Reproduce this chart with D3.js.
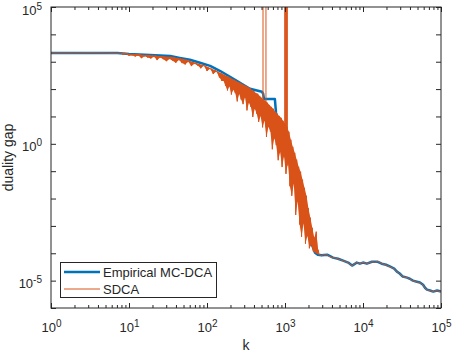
<!DOCTYPE html>
<html><head><meta charset="utf-8">
<script src="https://cdn.jsdelivr.net/npm/d3@7"></script>
<style>
body{margin:0;background:#fff}
svg{display:block}
text{font-family:"Liberation Sans",Arial,Helvetica,sans-serif;fill:#262626}
</style>
</head><body>
<svg id="c" width="452" height="354"></svg>
<script>
// ---------------- data (all pairs are [log10(k), log10(duality gap)]) ----------------
const xTickExponents = [0, 1, 2, 3, 4, 5];
const yTickExponents = [-6, -5, -4, -3, -2, -1, 0, 1, 2, 3, 4, 5];
const yLabelExponents = [-5, 0, 5];
const seriesNames = ["Empirical MC-DCA", "SDCA"];
const xLabel = "k";
const yLabel = "duality gap";

const mcdca = [
  [0,3.32],[0.85,3.32],[1.0,3.28],[1.27,3.25],[1.53,3.21],[1.65,3.14],[1.78,3.07],
  [1.91,2.96],[2.04,2.85],[2.17,2.66],[2.36,2.34],[2.55,2.01],[2.705,1.90],[2.72,1.83],
  [2.73,1.64],[2.87,1.64],[2.885,1.13],[2.91,0.80],[2.935,0.26],[2.99,-0.04],[3.03,-0.22],
  [3.08,-0.77],[3.13,-1.31],[3.18,-1.93],[3.23,-2.59],[3.28,-3.14],[3.32,-3.50],[3.385,-3.98],
  [3.42,-4.05],[3.47,-4.07],[3.54,-4.05],[3.615,-4.16],[3.68,-4.20],[3.745,-4.27],[3.81,-4.34],
  [3.86,-4.45],[3.90,-4.38],[3.92,-4.34],[3.96,-4.38],[4.0,-4.34],[4.05,-4.38],[4.115,-4.31],
  [4.19,-4.31],[4.24,-4.38],[4.295,-4.42],[4.35,-4.49],[4.40,-4.56],[4.435,-4.67],[4.47,-4.74],
  [4.51,-4.85],[4.565,-4.89],[4.60,-4.93],[4.64,-5.00],[4.69,-5.04],[4.73,-5.07],[4.77,-5.15],
  [4.795,-5.26],[4.82,-5.33],[4.86,-5.36],[4.90,-5.40],[4.95,-5.36],[5.0,-5.40]
];

const sdcaFlat = [[0,3.32],[0.3,3.32],[0.5,3.325],[0.7,3.32],[0.85,3.31]];

// noisy part: alternating [k, upper value], [k', lower value]
const sdcaMild = [
  [0.90,3.32],[0.92,3.25],[0.94,3.32],[0.96,3.28],[0.98,3.30],[1.00,3.22],
  [1.02,3.28],[1.04,3.24],[1.06,3.28],[1.08,3.19],[1.10,3.28],[1.12,3.23],
  [1.14,3.27],[1.16,3.13],[1.18,3.25],[1.20,3.20],[1.22,3.25],[1.24,3.15],
  [1.26,3.25],[1.28,3.12],[1.30,3.23],[1.32,3.18],[1.34,3.23],[1.36,3.06],
  [1.38,3.21],[1.40,3.15],[1.42,3.21],[1.44,3.09],[1.46,3.19],[1.48,3.02],
  [1.50,3.18],[1.52,3.10],[1.54,3.18],[1.56,3.04],[1.58,3.16],[1.60,2.96],
  [1.62,3.14],[1.64,3.06],[1.66,3.12],[1.68,2.95],[1.70,3.10],[1.72,2.90],
  [1.74,3.07],[1.76,3.00],[1.78,3.03],[1.80,2.84],[1.82,2.99],[1.84,2.93],
  [1.86,2.96],[1.88,2.86],[1.90,2.92],[1.92,2.76],[1.94,2.88],[1.96,2.85],
  [1.98,2.85],[2.00,2.66],[2.02,2.79],[2.04,2.74],[2.06,2.74],[2.08,2.55],
  [2.10,2.70],[2.12,2.64],[2.14,2.63],[2.16,2.42],[2.18,2.59],[2.19,2.30]
];

const sdcaSteep = [
  [2.200,2.55],[2.2125,2.30],[2.225,2.52],[2.2375,2.12],[2.250,2.48],[2.2625,1.95],
  [2.275,2.45],[2.2875,2.10],[2.300,2.41],[2.3125,1.80],[2.325,2.37],[2.3375,1.98],
  [2.350,2.34],[2.3625,1.85],[2.375,2.30],[2.3875,1.55],[2.400,2.26],[2.4125,1.82],
  [2.425,2.23],[2.4375,1.62],[2.450,2.19],[2.4625,1.45],[2.475,2.15],[2.4875,1.70],
  [2.500,2.12],[2.5125,1.22],[2.525,2.08],[2.5375,1.50],[2.550,2.04],[2.5625,1.35],
  [2.575,1.97],[2.5875,0.98],[2.600,1.93],[2.6125,1.28],[2.625,1.86],[2.6375,1.10],
  [2.650,1.83],[2.6625,0.80],[2.675,1.75],[2.6875,1.02],[2.700,1.68],[2.7125,0.60],
  [2.725,1.61],[2.7375,0.85],[2.750,1.57],[2.7625,0.25],[2.775,1.50],[2.7875,0.62],
  [2.800,1.42],[2.8125,0.45],[2.825,1.35],[2.8375,-0.20],[2.850,1.28],[2.8625,0.20],
  [2.875,1.17],[2.8875,-0.05],[2.900,1.10],[2.9125,-0.60],[2.925,1.02],[2.9375,-0.30],
  [2.950,0.95],[2.9625,-0.85],[2.975,0.84],[2.9875,-0.45],[3.000,0.73],[3.0125,-1.10],
  [3.025,0.62],[3.0375,-0.70],[3.050,0.44],[3.0625,-1.55],[3.075,0.15],[3.0875,-1.90],
  [3.100,-0.11],[3.1125,-1.45],[3.125,-0.33],[3.1375,-2.60],[3.150,-0.58],[3.1625,-2.10],
  [3.175,-0.84],[3.1875,-2.95],[3.200,-1.02],[3.2125,-3.40],[3.225,-1.31],[3.2375,-2.90],
  [3.250,-1.61],[3.2625,-3.65],[3.275,-1.90],[3.2875,-3.35],[3.300,-2.35],[3.3125,-3.82],
  [3.325,-2.70],[3.3375,-3.70],[3.350,-3.07],[3.3625,-3.93],[3.375,-3.43],[3.3875,-3.97],
  [3.400,-3.21],[3.4125,-4.02],[3.425,-3.87],[3.4375,-4.05]
];

// SDCA excursions far above the top of the axes
const sdcaSpike1 = [[2.718,1.0],[2.718,7],[2.756,7],[2.756,0.6]];
const sdcaSpike2 = [[2.996,0.2],[2.996,7],[3.004,7],[3.004,-0.5],[3.010,0.3],[3.010,7],
  [3.018,7],[3.018,-0.6],[3.024,0.2],[3.024,7],[3.030,7],[3.030,-0.8]];

const sdcaTail = [
  [3.45,-4.06],[3.47,-4.09],[3.49,-4.04],[3.51,-4.07],[3.54,-4.05],[3.56,-4.10],[3.59,-4.14],
  [3.615,-4.17],[3.64,-4.16],[3.68,-4.21],[3.71,-4.23],[3.745,-4.28],[3.78,-4.30],[3.81,-4.35],
  [3.835,-4.40],[3.86,-4.46],[3.88,-4.41],[3.90,-4.37],[3.92,-4.33],[3.94,-4.37],[3.96,-4.39],
  [3.98,-4.35],[4.00,-4.33],[4.03,-4.36],[4.05,-4.39],[4.08,-4.34],[4.115,-4.31],[4.15,-4.33],
  [4.19,-4.30],[4.22,-4.34],[4.24,-4.38],[4.27,-4.40],[4.295,-4.43],[4.32,-4.46],[4.35,-4.50],
  [4.375,-4.53],[4.40,-4.57],[4.42,-4.62],[4.435,-4.68],[4.455,-4.71],[4.47,-4.75],[4.49,-4.79],
  [4.51,-4.86],[4.54,-4.88],[4.565,-4.89],[4.58,-4.91],[4.60,-4.94],[4.62,-4.97],[4.64,-5.01],
  [4.665,-5.02],[4.69,-5.05],[4.71,-5.06],[4.73,-5.08],[4.75,-5.11],[4.77,-5.16],[4.78,-5.21],
  [4.795,-5.27],[4.81,-5.31],[4.82,-5.34],[4.84,-5.35],[4.86,-5.37],[4.88,-5.38],[4.90,-5.41],
  [4.92,-5.38],[4.95,-5.37],[4.97,-5.39],[5.0,-5.41]
];

// ---------------- drawing ----------------
const C_BLUE = "#0072BD", C_ORANGE = "#D95319", C_AXIS = "#262626";
const L = 51, R = 441, T = 7, B = 308;
const svg = d3.select("#c");

const x = d3.scaleLog().domain([1, 1e5]).range([L, R]);
const y = d3.scaleLog().domain([1e-6, 1e5]).range([B, T]);
const p10 = e => Math.pow(10, e);

svg.append("defs").append("clipPath").attr("id", "clip")
  .append("rect").attr("x", L).attr("y", T).attr("width", R - L).attr("height", B - T);

const line = d3.line().x(d => x(p10(d[0]))).y(d => y(p10(d[1])));
const plot = svg.append("g").attr("clip-path", "url(#clip)");

plot.append("path").datum(mcdca).attr("d", line)
  .attr("fill", "none").attr("stroke", C_BLUE).attr("stroke-width", 2.5).attr("stroke-linejoin", "round");

// dense noise band of SDCA (upper points forward, lower points back)
const noisy = sdcaMild.concat(sdcaSteep);
const upper = noisy.filter((d, i) => i % 2 === 0);
const lower = noisy.filter((d, i) => i % 2 === 1);
plot.append("path").datum(upper.concat(lower.slice().reverse()))
  .attr("d", d => line(d) + "Z").attr("fill", C_ORANGE).attr("stroke", "none");

const sdca = sdcaFlat.concat(sdcaMild, sdcaSteep, sdcaTail);
plot.append("path").datum(sdca).attr("d", line)
  .attr("fill", "none").attr("stroke", C_ORANGE).attr("stroke-width", 1).attr("stroke-linejoin", "round");
[sdcaSpike1, sdcaSpike2].forEach(s => plot.append("path").datum(s).attr("d", line)
  .attr("fill", "none").attr("stroke", C_ORANGE).attr("stroke-width", 1));

// ticks
const majorX = xTickExponents.map(p10);
const minorX = [];
xTickExponents.slice(0, -1).forEach(e => { for (let m = 2; m <= 9; m++) minorX.push(m * p10(e)); });
const yTicks = yTickExponents.map(p10);

function setSup(sel, getExp) {
  sel.each(function(d) {
    const t = d3.select(this);
    const e = getExp(d);
    t.text(null);
    t.append("tspan").text("10");
    t.append("tspan").attr("dy", "-0.5em").attr("font-size", "10px").text(e);
  });
}

function styleAxis(g) {
  g.select(".domain").remove();
  g.selectAll(".tick line").attr("stroke", C_AXIS).attr("stroke-width", 1);
}

// bottom major with labels
const gxb = svg.append("g").attr("transform", `translate(0,${B})`)
  .call(d3.axisBottom(x).tickValues(majorX).tickSize(-5).tickPadding(0));
styleAxis(gxb);
gxb.selectAll(".tick text").attr("y", 24).attr("dy", 0).attr("font-size", "13px").attr("fill", C_AXIS)
  .call(setSup, d => Math.round(Math.log10(d)));
svg.append("g").attr("transform", `translate(0,${B})`)
  .call(d3.axisBottom(x).tickValues(minorX).tickSize(-3).tickFormat(""))
  .call(styleAxis);
// top
svg.append("g").attr("transform", `translate(0,${T})`)
  .call(d3.axisTop(x).tickValues(majorX).tickSize(-5).tickFormat("")).call(styleAxis);
svg.append("g").attr("transform", `translate(0,${T})`)
  .call(d3.axisTop(x).tickValues(minorX).tickSize(-3).tickFormat("")).call(styleAxis);
// left
const gyl = svg.append("g").attr("transform", `translate(${L},0)`)
  .call(d3.axisLeft(y).tickValues(yTicks).tickSize(-5).tickPadding(9));
styleAxis(gyl);
gyl.selectAll(".tick text").attr("font-size", "13px").attr("fill", C_AXIS).attr("dy", "0.55em")
  .each(function(d) { if (!yLabelExponents.includes(Math.round(Math.log10(d)))) d3.select(this).remove(); });
gyl.selectAll(".tick text").call(setSup, d => Math.round(Math.log10(d)));
// right
svg.append("g").attr("transform", `translate(${R},0)`)
  .call(d3.axisRight(y).tickValues(yTicks).tickSize(-5).tickFormat("")).call(styleAxis);

// box
svg.append("rect").attr("x", L).attr("y", T).attr("width", R - L).attr("height", B - T)
  .attr("fill", "none").attr("stroke", C_AXIS).attr("stroke-width", 1);

// axis labels
svg.append("text").attr("x", (L + R) / 2).attr("y", 350).attr("text-anchor", "middle")
  .attr("font-size", "14px").text(xLabel);
svg.append("text").attr("transform", `translate(13,${(T + B) / 2}) rotate(-90)`)
  .attr("text-anchor", "middle").attr("font-size", "14px").text(yLabel);

// legend
const lg = svg.append("g");
lg.append("rect").attr("x", 60.5).attr("y", 262.5).attr("width", 156).attr("height", 35)
  .attr("fill", "#fff").attr("stroke", C_AXIS).attr("stroke-width", 1);
const colors = [C_BLUE, C_ORANGE], widths = [2.5, 1];
seriesNames.forEach((n, i) => {
  const yy = 272 + i * 17;
  lg.append("line").attr("x1", 64).attr("x2", 100).attr("y1", yy).attr("y2", yy)
    .attr("stroke", colors[i]).attr("stroke-width", widths[i]);
  lg.append("text").attr("x", 103).attr("y", yy + 4.5).attr("font-size", "13px").text(n);
});
</script>
</body></html>
